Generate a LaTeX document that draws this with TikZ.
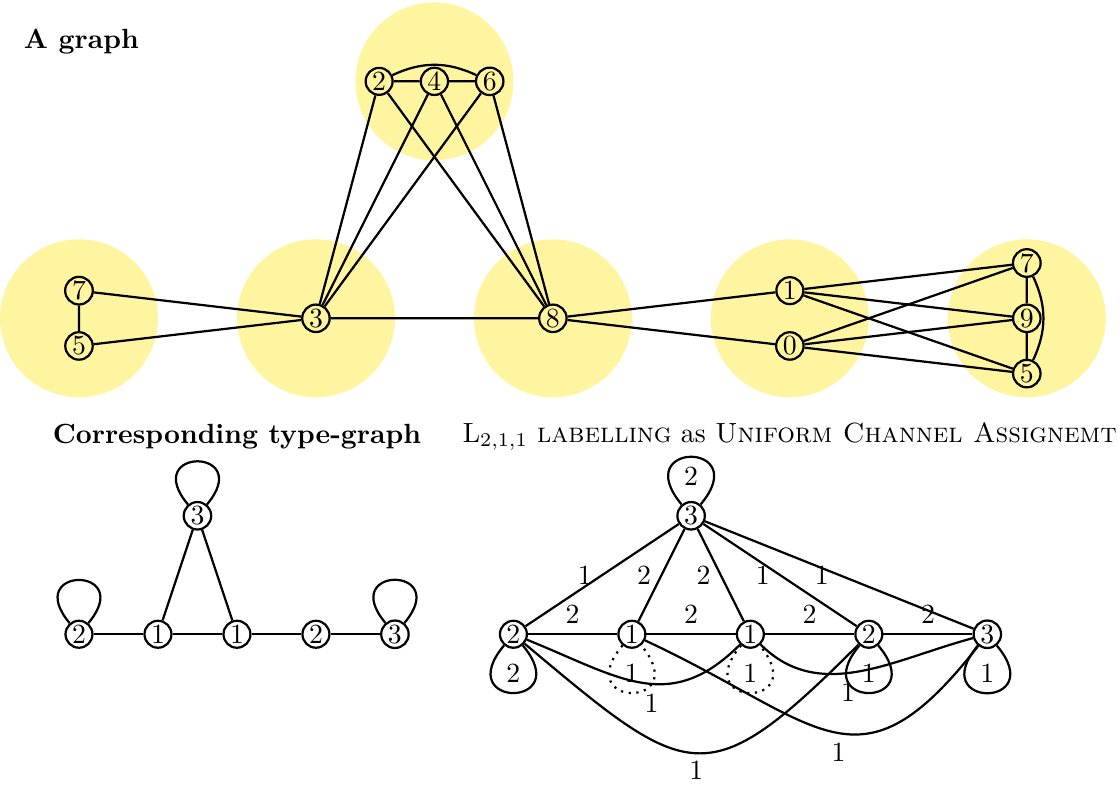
\documentclass[tikz,border=0pt]{standalone}
\usepackage{tikz}
\definecolor{paleyellow}{RGB}{255,245,160}
\tikzstyle{yellow_node} = [
    circle, 
    draw=black, 
    fill=paleyellow, 
    thick, 
    inner sep=0.5pt % tight around one digit
]
\tikzstyle{white_node} = [
    circle, 
    draw=black, 
    fill=white, 
    thick, 
    inner sep=0.5pt
]
\tikzstyle{cluster} = [
    circle, 
    fill=paleyellow, 
    minimum size=2cm, 
    inner sep=0pt
]
\tikzstyle{title} = [
    font=\bfseries
]
\tikzset{
    loop_up/.style={out=130, in=50, min distance=#1},
    loop_up/.default=1.05cm,
    loop_down/.style={out=-130, in=-50, min distance=#1},
    loop_down/.default=1.05cm
}

\begin{document}
\begin{tikzpicture}[thick]
\useasboundingbox (0,-5.9) rectangle (14.18,4.03);

% the graph with its clusters
\node [cluster] (c1) at (1,0) {};
\node [cluster] (c2) at (4,0) {};
\node [cluster] (c3) at (7,0) {};
\node [cluster] (c4) at (10,0) {};
\node [cluster] (c5) at (13,0) {};
\node [cluster] (c6) at (5.5,3) {};

\node [title] (title_graph) at (1.03,3.5) {A graph};

\node [yellow_node] (a7) at (1,0.35) {7};
\node [yellow_node] (a5) at (1,-0.35) {5};
\node [yellow_node] (a3) at (4,0) {3};
\node [yellow_node] (a8) at (7,0) {8};
\node [yellow_node] (a2) at (4.8,3) {2};
\node [yellow_node] (a4) at (5.5,3) {4};
\node [yellow_node] (a6) at (6.2,3) {6};
\node [yellow_node] (a1) at (10,0.35) {1};
\node [yellow_node] (a0) at (10,-0.35) {0};
\node [yellow_node] (b7) at (13,0.7) {7};
\node [yellow_node] (b9) at (13,0) {9};
\node [yellow_node] (b5) at (13,-0.7) {5};

\draw (a7) -- (a5) (a7) -- (a3) (a5) -- (a3) (a3) -- (a8);
\draw (a2) -- (a4) (a4) -- (a6) (a2) to[bend left=25] (a6);
\foreach \t in {a2,a4,a6}
    \draw (a3) -- (\t) (a8) -- (\t);
\draw (a8) -- (a1) (a8) -- (a0);
\foreach \s in {a1,a0}
    \foreach \t in {b7,b9,b5}
        \draw (\s) -- (\t);
\draw (b7) -- (b9) (b9) -- (b5) (b7) to[bend left=25] (b5);

% type-graph
\node [title] (title_type) at (3,-1.5) {Corresponding type-graph};

\node [white_node] (t3) at (2.5,-2.5) {3};
\node [white_node] (t2a) at (1,-4) {2};
\node [white_node] (t1a) at (2,-4) {1};
\node [white_node] (t1b) at (3,-4) {1};
\node [white_node] (t2b) at (4,-4) {2};
\node [white_node] (t3b) at (5,-4) {3};

\draw (t2a) -- (t1a) -- (t1b) -- (t2b) -- (t3b);
\draw (t3) -- (t1a) (t3) -- (t1b);
\draw (t3) to[loop_up=0.95cm] (t3);
\draw (t2a) to[loop_up=0.95cm] (t2a);
\draw (t3b) to[loop_up=0.95cm] (t3b);

% labelling
\node (title_label) at (10,-1.5)
    {\textrm{L}$_{2,1,1}$ \textsc{labelling} as \textsc{Uniform Channel Assignemt}};

\node [white_node] (u3) at (8.75,-2.5) {3};
\node [white_node] (u2a) at (6.5,-4) {2};
\node [white_node] (u1a) at (8,-4) {1};
\node [white_node] (u1b) at (9.5,-4) {1};
\node [white_node] (u2b) at (11,-4) {2};
\node [white_node] (u3b) at (12.5,-4) {3};

\draw (u3) -- node[left] {1} (u2a);
\draw (u3) -- node[left] {2} (u1a);
\draw (u3) -- node[left] {2} (u1b);
\draw (u3) -- node[left] {1} (u2b);
\draw (u3) -- node[left] {1} (u3b);
\draw (u2a) -- node[above] {2} (u1a);
\draw (u1a) -- node[above] {2} (u1b);
\draw (u1b) -- node[above] {2} (u2b);
\draw (u2b) -- node[above] {2} (u3b);

\draw (u3) to[loop_up] node[below] {2} (u3);
\draw (u2a) to[loop_down] node[above] {2} (u2a);
\draw [dotted] (u1a) to[loop_down] node[above] {1} (u1a);
\draw [dotted] (u1b) to[loop_down] node[above] {1} (u1b);
\draw (u2b) to[loop_down] node[above] {1} (u2b);
\draw (u3b) to[loop_down] node[above] {1} (u3b);

\draw (u2a) to[out=-22, in=-135, looseness=1.2] node[pos=.55, below] {1} (u1b);
\draw (u2a) to[out=-40, in=-135, looseness=1.65] node[below, inner sep=2.5pt] {1} (u2b);
\draw (u1a) to[out=-25, in=-128, looseness=1.5] node[pos=.52, below] {1} (u3b);
\draw (u1b) to[out=-45, in=-165] node[pos=.45, below] {1} (u3b);
\end{tikzpicture}
\end{document}
